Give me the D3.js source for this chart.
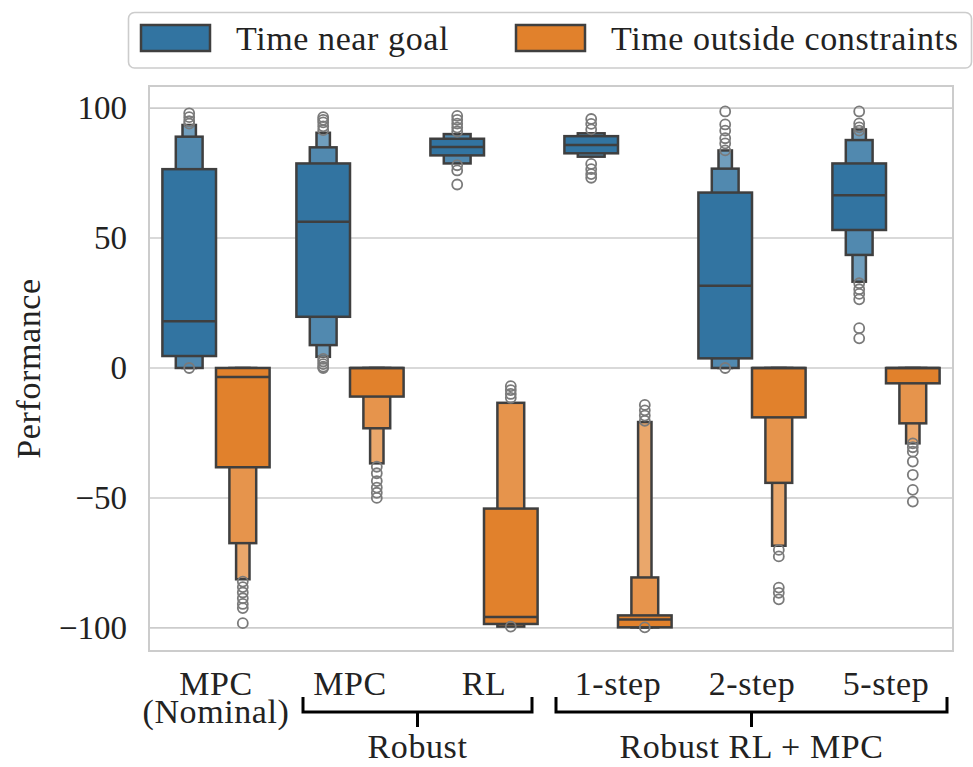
<!DOCTYPE html>
<html>
<head>
<meta charset="utf-8">
<script src="https://cdn.jsdelivr.net/npm/d3@7"></script>
<style>
    body { margin: 0; background: #fff; }
    svg text { font-family: "Liberation Serif", "DejaVu Serif", serif; fill: #222; }
    .label { letter-spacing: 0.6px; }
</style>
</head>
<body>
<svg id="chart" width="973" height="767"></svg>
<script>
// Categories and series
const categories = ['MPC\n(Nominal)', 'MPC', 'RL', '1-step', '2-step', '5-step'];
const seriesNames = ['Time near goal', 'Time outside constraints'];
const seriesColors = ['#3274a1', '#e1812c'];
const yTicks = [-100, -50, 0, 50, 100];
const yDomain = [-108.9, 108.5];

// Time near goal: medians, letter-value boxes (innermost first, [low, high]) and outliers
const nearMedians = [18, 56.3, 85, 85.8, 31.6, 66.5];
const nearLevels = [
    [[4.6, 76.5], [0, 89], [0, 93.5]],
    [[19.7, 78.7], [8.8, 84.9], [4.3, 90.5]],
    [[81.8, 88.2], [78.7, 90]],
    [[82.6, 89.2], [81.3, 90.3]],
    [[3.7, 67.5], [0, 76.7], [0, 83.7]],
    [[53.1, 78.7], [43.5, 87.7], [33.2, 91.8]]
];
const nearOutliers = [
    [98, 96.5, 95, 94, 0],
    [96.5, 95.5, 94.5, 93, 91.5, 3.5, 2.5, 1.5, 0.5, 0],
    [97, 95.5, 94, 92.5, 91, 78, 76, 70.6],
    [95.8, 93.9, 91.8, 78.5, 76.5, 74.6, 73.2],
    [98.7, 93.7, 91.3, 88.4, 86.4, 83.7, 0],
    [98.7, 94.1, 92.6, 91.3, 32.6, 30.3, 28.5, 26.4, 15.3, 11.4]
];

// Time outside constraints
const outMedians = [-3.5, 0, -95.8, -96.8, 0, 0];
const outLevels = [
    [[-38.2, 0], [-67.4, 0], [-81.3, 0]],
    [[-11, 0], [-23.2, 0], [-36.7, 0]],
    [[-98.5, -54.1], [-99.5, -13.4]],
    [[-99.8, -95.2], [-99.8, -80.6], [-99.8, -20.8]],
    [[-19, 0], [-44.2, 0], [-68.4, 0]],
    [[-5.9, 0], [-21.3, 0], [-29, 0]]
];
const outOutliers = [
    [-82.2, -84.3, -86.4, -88.6, -90.8, -92.4, -98.2],
    [-38, -40.5, -43.5, -46, -48, -50],
    [-7, -8.5, -10, -11.5, -99.5],
    [-14.2, -16.3, -18.3, -20.3, -99.8],
    [-70, -72.5, -84.5, -86.5, -89],
    [-29, -30.5, -32.2, -36, -41.1, -46.9, -51.4]
];

const medians = [nearMedians, outMedians];
const levels = [nearLevels, outLevels];
const outliers = [nearOutliers, outOutliers];

// Dimensions
const width = 973, height = 767;
const margin = {top: 86, right: 20, bottom: 116, left: 149};
const innerW = width - margin.left - margin.right;
const innerH = height - margin.top - margin.bottom;
const fontSize = 34;
const edgeColor = '#3f3f3f';

const svg = d3.select('#chart');
const g = svg.append('g')
    .attr('transform', `translate(${margin.left},${margin.top})`);

// Scales
const x = d3.scaleBand()
    .domain(d3.range(categories.length))
    .range([0, innerW]);
const hue = d3.scaleBand()
    .domain([0, 1])
    .range([x.bandwidth() * 0.1, x.bandwidth() * 0.9]);
const y = d3.scaleLinear()
    .domain(yDomain)
    .range([innerH, 0]);

// Grid lines
g.append('g')
    .selectAll('line')
    .data(yTicks)
    .enter()
    .append('line')
    .attr('x1', 0)
    .attr('x2', innerW)
    .attr('y1', d => y(d))
    .attr('y2', d => y(d))
    .attr('stroke', '#cccccc')
    .attr('stroke-width', 1.6);

// Y axis labels
const yAxis = g.append('g')
    .call(d3.axisLeft(y).tickValues(yTicks).tickSize(0).tickPadding(22));
yAxis.select('.domain').remove();
yAxis.selectAll('text')
    .style('font-size', '33px')
    .style('font-family', '"Liberation Serif", serif')
    .attr('fill', '#222');

// Letter-value boxes
function levelColor(base, i) {
    return d3.interpolateRgb(base, '#ffffff')(0.15 * i);
}

seriesNames.forEach((name, s) => {
    const layer = g.append('g');
    categories.forEach((cat, i) => {
        const fullW = hue.bandwidth();
        const cx = x(i) + hue(s) + fullW / 2;
        const lv = levels[s][i].map((b, k) => ({lo: b[0], hi: b[1], k}));

        // outer levels first so inner ones sit on top
        layer.selectAll(null)
            .data(lv.slice().reverse())
            .enter()
            .append('rect')
            .attr('x', d => cx - fullW * Math.pow(0.5, d.k) / 2)
            .attr('width', d => fullW * Math.pow(0.5, d.k))
            .attr('y', d => y(d.hi))
            .attr('height', d => y(d.lo) - y(d.hi))
            .attr('fill', d => levelColor(seriesColors[s], d.k))
            .attr('stroke', edgeColor)
            .attr('stroke-width', 2.5);

        // median
        layer.append('line')
            .attr('x1', cx - fullW / 2)
            .attr('x2', cx + fullW / 2)
            .attr('y1', y(medians[s][i]))
            .attr('y2', y(medians[s][i]))
            .attr('stroke', edgeColor)
            .attr('stroke-width', 2.5);

        // outliers
        layer.selectAll(null)
            .data(outliers[s][i])
            .enter()
            .append('circle')
            .attr('cx', cx)
            .attr('cy', d => y(d))
            .attr('r', 5)
            .attr('fill', 'none')
            .attr('stroke', '#7a7a7a')
            .attr('stroke-width', 1.8);
    });
});

// Spines
g.append('rect')
    .attr('x', 0)
    .attr('y', 0)
    .attr('width', innerW)
    .attr('height', innerH)
    .attr('fill', 'none')
    .attr('stroke', '#cccccc')
    .attr('stroke-width', 2);

// X tick labels (multi-line)
const xLabels = svg.append('g')
    .selectAll('text')
    .data(categories)
    .enter()
    .append('text')
    .attr('class', 'label')
    .attr('text-anchor', 'middle')
    .style('font-size', fontSize + 'px');
xLabels.each(function (d, i) {
    const cx = margin.left + x(i) + x.bandwidth() / 2;
    d.split('\n').forEach((line, j) => {
        d3.select(this).append('tspan')
            .attr('x', cx)
            .attr('y', 695 + j * 28)
            .text(line);
    });
});

// Group brackets underneath the tick labels
const bw = x.bandwidth();
const brackets = [
    {label: 'Robust', x0: margin.left + x(1) + 20, x1: margin.left + x(2) + bw - 19},
    {label: 'Robust RL + MPC', x0: margin.left + x(3) + 5, x1: margin.left + x(5) + bw - 6}
];
brackets.forEach(b => {
    const mid = (b.x0 + b.x1) / 2;
    svg.append('path')
        .attr('d', `M${b.x0},697 V712 H${b.x1} V697 M${mid},712 V727`)
        .attr('fill', 'none')
        .attr('stroke', '#000')
        .attr('stroke-width', 3);
    svg.append('text')
        .attr('class', 'label')
        .attr('x', mid)
        .attr('y', 758)
        .attr('text-anchor', 'middle')
        .style('font-size', fontSize + 'px')
        .text(b.label);
});

// Y axis title
svg.append('text')
    .attr('class', 'label')
    .attr('transform', `translate(40,${margin.top + innerH / 2}) rotate(-90)`)
    .attr('text-anchor', 'middle')
    .style('font-size', fontSize + 'px')
    .text('Performance');

// Legend
const legend = svg.append('g');
legend.append('rect')
    .attr('x', 128.5)
    .attr('y', 12.5)
    .attr('width', 843)
    .attr('height', 55.5)
    .attr('rx', 6)
    .attr('fill', '#fff')
    .attr('stroke', '#cccccc')
    .attr('stroke-width', 1.6);
const legendX = [141, 516];
seriesNames.forEach((name, s) => {
    legend.append('rect')
        .attr('x', legendX[s])
        .attr('y', 25)
        .attr('width', 69)
        .attr('height', 26)
        .attr('fill', seriesColors[s])
        .attr('stroke', edgeColor)
        .attr('stroke-width', 2.5);
    legend.append('text')
        .attr('class', 'label')
        .attr('x', legendX[s] + 95)
        .attr('y', 50)
        .style('font-size', fontSize + 'px')
        .text(name);
});
</script>
</body>
</html>
